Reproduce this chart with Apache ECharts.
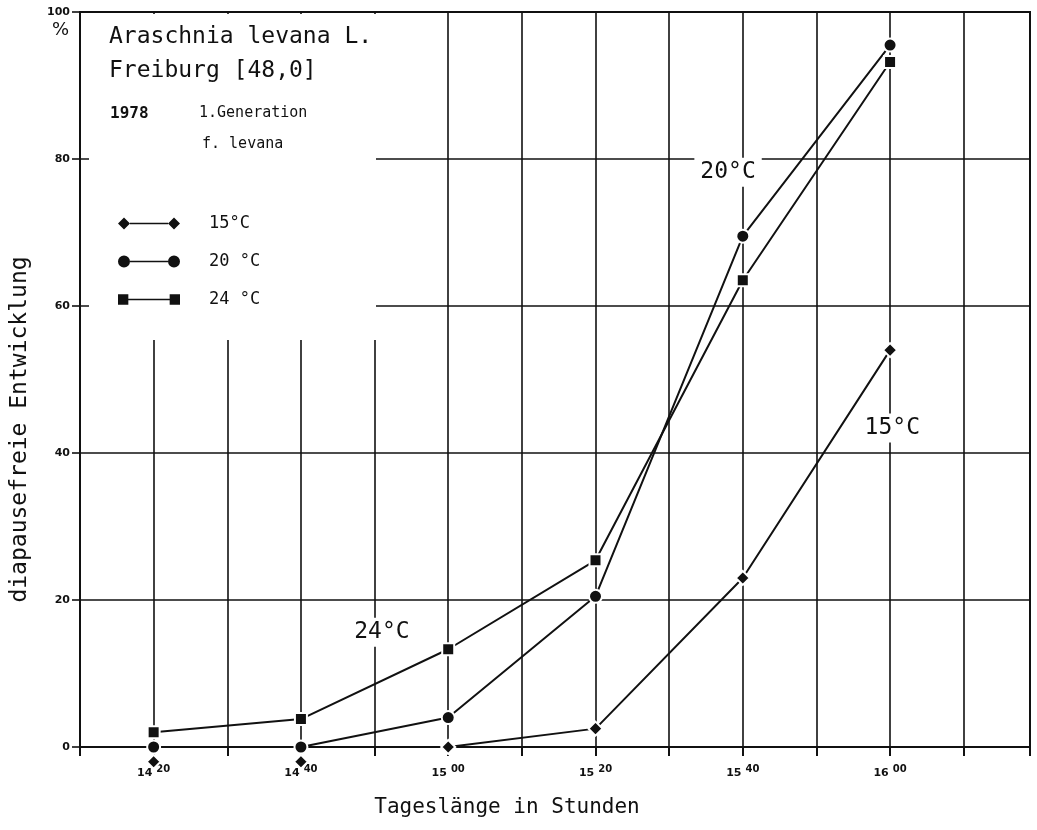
<!DOCTYPE html>
<html>
<head>
<meta charset="utf-8">
<script src="https://cdn.jsdelivr.net/npm/echarts@6/dist/echarts.min.js"></script>
<style>
  html, body { margin: 0; padding: 0; background: #fff; }
  #main { width: 1037px; height: 830px; }
</style>
</head>
<body>
<div id="main"></div>
<script>
// Tageslänge in Minuten seit Mitternacht (14:20 = 860)
var timeMinutes = [860, 880, 900, 920, 940, 960];
var tickHours = ['14', '14', '15', '15', '15', '16'];
var tickMins = ['20', '40', '00', '20', '40', '00'];
var yTicks = [0, 20, 40, 60, 80, 100];

// diapausefreie Entwicklung in %
var series15 = [null, null, 0, 2.5, 23, 54];
var series15Below = [-2, -2, null, null, null, null];   // 0-Werte unter der Achse markiert
var series20 = [0, 0, 4, 20.5, 69.5, 95.5];
var series24 = [2, 3.8, 13.3, 25.4, 63.5, 93.2];

var legendNames = ['15°C', '20 °C', '24 °C'];

function pairs(arr) {
    var out = [];
    for (var i = 0; i < arr.length; i++) {
        if (arr[i] !== null) out.push([timeMinutes[i], arr[i]]);
    }
    return out;
}

var font = '"DejaVu Sans", sans-serif';
var mono = '"DejaVu Sans Mono", monospace';
var ink = '#111';

var markerStyle = { color: ink, borderColor: '#fff', borderWidth: 2, opacity: 1 };

function tempLabel(text, x, y) {
    return {
        symbol: 'circle',
        symbolSize: 1,
        itemStyle: { color: 'rgba(0,0,0,0)' },
        label: {
            show: true,
            position: 'inside',
            formatter: text,
            color: ink,
            fontSize: 23,
            fontFamily: mono,
            backgroundColor: '#fff',
            padding: [3, 6]
        },
        data: [{ coord: [x, y] }]
    };
}

var chart = echarts.init(document.getElementById('main'));

chart.setOption({
    backgroundColor: '#fff',
    animation: false,
    textStyle: { fontFamily: font, color: ink },
    grid: {
        left: 80, right: 7, top: 12, bottom: 83,
        outerBoundsMode: 'none',
        containLabel: false,
        show: true,
        borderColor: ink,
        borderWidth: 2
    },
    legend: {
        orient: 'vertical',
        left: 113,
        top: 210,
        itemWidth: 62,
        itemHeight: 12,
        itemGap: 21,
        itemStyle: { color: ink, borderWidth: 0 },
        textStyle: { fontSize: 17, fontFamily: mono, color: ink, padding: [0, 0, 0, 24] },
        data: [
            { name: legendNames[0], icon: 'path://M0 6L6 0L12 6L6 12ZM12 5.2L50 5.2L50 6.8L12 6.8ZM50 6L56 0L62 6L56 12Z' },
            { name: legendNames[1], icon: 'path://M0 6A6 6 0 1 1 12 6A6 6 0 1 1 0 6ZM12 5.2L50 5.2L50 6.8L12 6.8ZM50 6A6 6 0 1 1 62 6A6 6 0 1 1 50 6Z' },
            { name: legendNames[2], icon: 'path://M1 1L11 1L11 11L1 11ZM11 5.2L51 5.2L51 6.8L11 6.8ZM51 1L61 1L61 11L51 11Z' }
        ]
    },
    xAxis: {
        type: 'value',
        min: 850,
        max: 979,
        interval: 10,
        name: 'Tageslänge in Stunden',
        nameLocation: 'middle',
        nameGap: 50,
        nameTextStyle: { fontSize: 21, fontFamily: mono, color: ink, padding: [0, 96, 0, 0] },
        axisLine: { onZero: false, lineStyle: { color: ink, width: 2 } },
        axisTick: { show: true, length: 9, lineStyle: { color: ink, width: 2 } },
        axisLabel: {
            margin: 17,
            formatter: function (v) {
                var i = timeMinutes.indexOf(v);
                if (i < 0) return '';
                return '{h|' + tickHours[i] + '}{m|' + tickMins[i] + '}';
            },
            rich: {
                h: { fontSize: 11, fontWeight: 'bold', color: ink },
                m: { fontSize: 10, fontWeight: 'bold', color: ink, padding: [0, 0, 9, 4] }
            }
        },
        splitLine: { show: true, lineStyle: { color: ink, width: 1.6 } }
    },
    yAxis: {
        type: 'value',
        min: 0,
        max: 100,
        interval: 20,
        name: 'diapausefreie Entwicklung',
        nameLocation: 'middle',
        nameGap: 48,
        nameTextStyle: { fontSize: 23, fontFamily: mono, color: ink, padding: [0, 100, 0, 0] },
        axisLine: { show: true, lineStyle: { color: ink, width: 2 } },
        axisTick: { show: true, length: 8, lineStyle: { color: ink, width: 1.6 } },
        axisLabel: {
            fontSize: 11, fontWeight: 'bold', color: ink, margin: 10,
            formatter: function (v) { return yTicks.indexOf(v) >= 0 ? String(v) : ''; }
        },
        splitLine: { show: true, lineStyle: { color: ink, width: 1.6 } }
    },
    graphic: [
        // freie Fläche für Beschriftung oben links
        { type: 'rect', z: 1, shape: { x: 89, y: 14, width: 287, height: 326 }, style: { fill: '#fff' } },
        { type: 'text', z: 5, left: 52, top: 21, style: { text: '%', fontSize: 18, fill: ink, fontFamily: font } },
        { type: 'text', z: 5, left: 109, top: 26, style: { text: 'Araschnia levana L.', fontSize: 23, fill: ink, fontFamily: mono } },
        { type: 'text', z: 5, left: 109, top: 60, style: { text: 'Freiburg [48,0]', fontSize: 23, fill: ink, fontFamily: mono } },
        { type: 'text', z: 5, left: 110, top: 106, style: { text: '1978', fontSize: 16, fontWeight: 'bold', fill: ink, fontFamily: mono } },
        { type: 'text', z: 5, left: 199, top: 106, style: { text: '1.Generation', fontSize: 15, fill: ink, fontFamily: mono } },
        { type: 'text', z: 5, left: 202, top: 137, style: { text: 'f. levana', fontSize: 15, fill: ink, fontFamily: mono } }
    ],
    series: [
        {
            name: legendNames[0],
            type: 'line',
            data: pairs(series15),
            symbol: 'diamond',
            symbolSize: 14,
            lineStyle: { color: ink, width: 2 },
            itemStyle: markerStyle,
            markPoint: tempLabel('15°C', 960.3, 43.4)
        },
        {
            name: legendNames[0],
            type: 'scatter',
            clip: false,
            data: pairs(series15Below),
            symbol: 'diamond',
            symbolSize: 14,
            itemStyle: markerStyle
        },
        {
            name: legendNames[1],
            type: 'line',
            data: pairs(series20),
            symbol: 'circle',
            symbolSize: 13,
            lineStyle: { color: ink, width: 2 },
            itemStyle: markerStyle,
            markPoint: tempLabel('20°C', 938, 78.2)
        },
        {
            name: legendNames[2],
            type: 'line',
            data: pairs(series24),
            symbol: 'rect',
            symbolSize: 12,
            lineStyle: { color: ink, width: 2 },
            itemStyle: markerStyle,
            markPoint: tempLabel('24°C', 891, 15.6)
        }
    ]
});
</script>
</body>
</html>
